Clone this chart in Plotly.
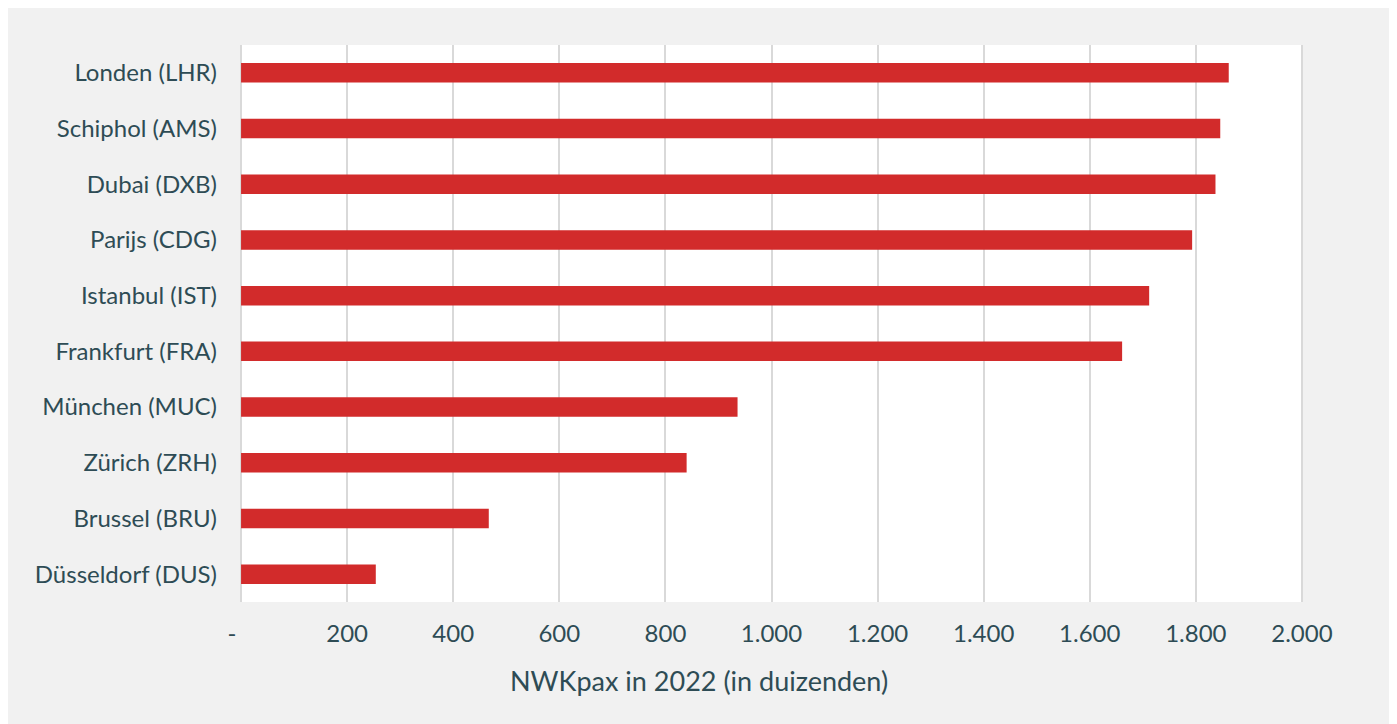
import plotly.graph_objects as go

airports = ["Londen (LHR)", "Schiphol (AMS)", "Dubai (DXB)", "Parijs (CDG)", "Istanbul (IST)",
            "Frankfurt (FRA)", "München (MUC)", "Zürich (ZRH)", "Brussel (BRU)", "Düsseldorf (DUS)"]
nwkpax = [1862, 1846, 1837, 1793, 1712, 1661, 936, 840, 467, 254]

tick_vals = [0, 200, 400, 600, 800, 1000, 1200, 1400, 1600, 1800, 2000]
tick_text = ["-\u00a0\u00a0\u00a0", "200", "400", "600", "800", "1.000", "1.200", "1.400",
             "1.600", "1.800", "2.000"]
x_title = "NWKpax in 2022 (in duizenden)"

text_color = "#2e4c55"
bar_color = "#d22b2b"
grid_color = "#d9d9d9"
bg_gray = "#f1f1f1"

W, H = 1381, 724
ML, MR, MT, MB = 232, 86, 37, 130
plot_w = W - ML - MR
plot_h = H - MT - MB

fig = go.Figure(go.Bar(
    x=nwkpax,
    y=airports,
    orientation="h",
    width=0.35,
    marker=dict(color=bar_color, line=dict(width=0)),
    hoverinfo="x+y",
))

fig.update_layout(
    width=W,
    height=H,
    margin=dict(l=ML, r=MR, t=MT, b=MB),
    paper_bgcolor=bg_gray,
    plot_bgcolor="white",
    font=dict(family="Lato, sans-serif", size=24, color=text_color),
    showlegend=False,
    annotations=[dict(
        text=x_title,
        xref="paper", yref="paper",
        x=(W / 2 - ML) / plot_w, y=-79 / plot_h,
        xanchor="center", yanchor="middle",
        showarrow=False,
        font=dict(size=27, color=text_color),
    )],
    xaxis=dict(
        range=[-2, 2002],
        tickvals=tick_vals,
        ticktext=tick_text,
        showgrid=True,
        gridcolor=grid_color,
        gridwidth=2,
        zeroline=True,
        zerolinecolor=grid_color,
        zerolinewidth=2,
        showline=False,
        ticks="",
        ticklabelstandoff=15,
        tickfont=dict(size=24, color=text_color),
        fixedrange=True,
    ),
    yaxis=dict(
        categoryorder="array",
        categoryarray=airports,
        autorange="reversed",
        showgrid=False,
        zeroline=False,
        ticks="",
        ticklabelstandoff=22,
        tickfont=dict(size=24, color=text_color),
        fixedrange=True,
    ),
)

fig.write_html("out.html")
